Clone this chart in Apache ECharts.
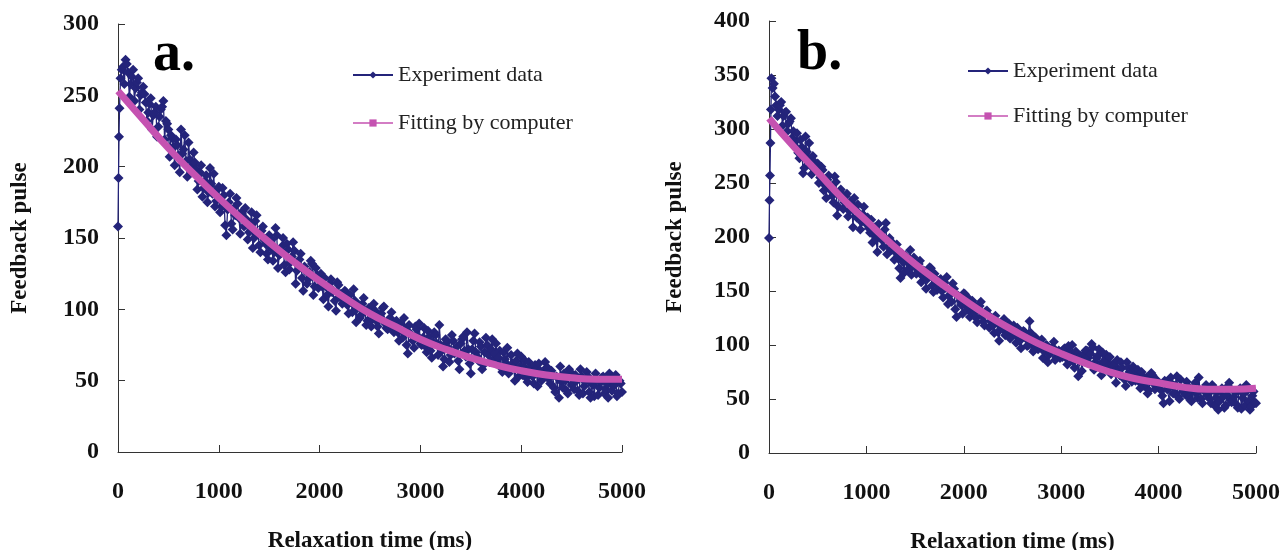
<!DOCTYPE html>
<html><head><meta charset="utf-8">
<script src="https://cdn.jsdelivr.net/npm/echarts@6/dist/echarts.min.js"></script>
<style>html,body{margin:0;background:#fff}#c{width:1280px;height:550px}</style>
</head><body><div id="c"></div>
<script>
// ---------- data ----------
const xTicks = [0, 1000, 2000, 3000, 4000, 5000];
const sampleStepMs = 25;      // main samples: 25, 50, ... 5000 ms
const midStartMs = 37.5;      // interleaved samples: 37.5, 62.5, ... 4987.5 ms
const fitStepMs = 250;        // fitted curve read every 250 ms

// Panel a
const rampTimesA = [0, 5, 10, 15];
const rampValsA  = [158, 192, 221, 241];
const expA = [
 262,270,275,266,258,268,255,262,250,256,
 245,238,248,236,242,228,240,246,232,226,
 222,214,219,208,226,212,204,217,200,210,
 198,190,201,185,194,182,188,195,176,186,
 172,180,152,175,160,171,178,164,167,158,
 163,154,168,150,166,145,155,149,139,152,
 149,140,152,138,144,131,146,128,137,141,
 127,135,122,130,118,126,132,116,124,121,
 116,122,110,118,112,106,119,109,104,113,
 103,110,98,106,101,94,104,99,92,100,
 93,99,88,95,101,90,86,94,89,91,
 84,90,80,86,69,83,78,88,81,76,
 80,74,85,71,77,82,68,75,60,79,
 73,68,78,70,64,76,81,67,72,55,
 78,70,64,74,61,80,68,72,65,76,
 66,59,70,62,55,68,60,64,53,67,
 60,52,63,56,48,58,62,50,55,59,
 51,57,45,53,38,49,55,43,58,47,
 44,50,40,53,46,56,42,48,39,51,
 45,52,41,48,55,43,47,39,50,42
];
const expMidA = [
 268,258,272,249,263,246,259,240,252,
 251,232,244,226,238,221,235,242,219,230,
 207,220,201,215,196,209,222,193,205,199,
 203,184,196,179,190,175,199,181,172,184,
 168,185,159,170,181,156,166,174,153,169,
 171,149,159,143,162,153,140,158,146,135,
 143,134,157,129,139,150,126,142,133,147,
 118,131,139,113,127,121,134,110,129,115,
 125,107,116,102,121,113,99,117,111,106,
 112,97,105,114,91,103,96,108,89,101,
 88,104,92,83,97,102,87,93,98,84,
 92,78,85,94,75,89,82,73,86,90,
 75,87,70,81,66,84,76,89,71,65,
 77,63,82,69,74,58,79,71,84,62,
 72,83,67,77,58,70,75,63,79,69,
 63,71,56,65,73,58,62,50,69,60,
 54,64,49,59,53,61,46,57,52,63,
 59,48,54,42,52,60,45,50,41,56,
 48,54,43,58,41,49,53,38,47,55,
 40,49,53,44,38,51,46,54,41,48
];
const fitA = [253,233,213,195,178,162,147,133,120,108,97,88,79,72,66,61,57,54,52,51,51];

// Panel b
const rampTimesB = [0, 5, 10, 15, 20];
const rampValsB  = [199, 234, 257, 287, 318];
const expB = [
 347,342,322,318,325,312,316,305,310,298,
 283,278,290,259,293,272,266,275,262,268,
 255,262,248,253,244,238,256,220,242,236,
 232,240,224,229,236,218,222,214,228,212,
 208,216,202,198,212,200,191,213,196,189,
 194,186,180,162,177,183,170,188,173,176,
 170,178,164,168,161,172,155,166,151,160,
 150,158,163,146,140,152,126,145,137,148,
 136,143,130,138,125,133,140,122,131,128,
 122,118,127,112,120,115,109,118,106,113,
 110,116,104,108,112,99,122,101,96,104,
 98,105,94,100,91,97,103,89,95,93,
 96,88,99,92,85,94,71,90,86,95,
 88,92,98,84,90,80,93,86,79,89,
 82,76,86,72,79,68,84,75,66,78,
 72,66,75,62,70,58,74,64,68,61,
 58,46,66,60,70,55,63,52,68,57,
 54,62,49,57,65,51,58,46,60,53,
 50,63,44,56,48,60,42,54,65,47,
 52,45,58,41,55,63,48,43,57,46
];
const expMidB = [
 338,330,312,322,303,315,298,307,292,
 288,296,273,283,264,279,287,258,270,263,
 250,265,243,236,257,247,232,251,228,244,
 226,238,219,233,209,225,230,207,221,215,
 218,204,195,209,186,203,197,207,184,199,
 188,179,193,171,185,167,180,175,165,181,
 166,175,158,169,152,163,171,149,161,156,
 161,144,153,138,150,157,133,146,141,129,
 147,133,126,141,130,121,136,127,118,132,
 116,125,111,121,104,117,124,110,120,108,
 118,102,109,97,113,106,100,111,94,107,
 96,101,88,99,84,94,98,86,92,88,
 89,97,82,93,100,79,91,85,76,92,
 95,83,101,77,88,96,72,85,91,81,
 73,81,65,77,84,70,62,79,73,80,
 67,77,60,71,64,55,69,72,59,66,
 62,53,67,59,48,64,56,71,50,60,
 57,66,52,48,61,55,70,50,58,63,
 55,46,61,51,40,58,52,44,62,49,
 49,56,42,60,51,44,58,40,53,47
];
const fitB = [310,284,260,236,215,194,175,158,142,127,114,102,92,83,75,69,65,61,59,59,60];

const seriesNames = ['Experiment data', 'Fitting by computer'];
const panelLabels = ['a.', 'b.'];

// ---------- build ----------
function expPairs(rt, rv, vals, mids) {
  const out = rt.map((t, i) => [t, rv[i]]);
  vals.forEach((v, i) => out.push([(i + 1) * sampleStepMs, v]));
  mids.forEach((v, i) => out.push([midStartMs + i * sampleStepMs, v]));
  out.sort((p, q) => p[0] - q[0]);
  return out;
}
function fitPairs(vals) { return vals.map((v, i) => [i * fitStepMs, v]); }

const SERIF = "'Liberation Serif','Times New Roman',serif";
const NAVY = '#24247a';
const PINK = '#c552b1';
const AX = '#333';

function xAxis(gi) {
  return {
    type: 'value', gridIndex: gi, min: 0, max: 5000, interval: 1000,
    name: 'Relaxation time (ms)', nameLocation: 'middle', nameGap: 78,
    nameTextStyle: { fontFamily: SERIF, fontWeight: 'bold', fontSize: 23, color: '#111' },
    axisLine: { show: true, lineStyle: { color: AX, width: 1 } },
    axisTick: { show: true, inside: true, length: 7, lineStyle: { color: AX } },
    axisLabel: { margin: 28, fontFamily: SERIF, fontWeight: 'bold', fontSize: 24, color: '#111',
      formatter: v => xTicks.includes(v) ? String(v) : '' },
    splitLine: { show: false }
  };
}
function yAxis(gi, max, margin, gap) {
  return {
    type: 'value', gridIndex: gi, min: 0, max: max, interval: 50,
    name: 'Feedback pulse', nameLocation: 'middle', nameGap: gap, nameRotate: 90,
    nameTextStyle: { fontFamily: SERIF, fontWeight: 'bold', fontSize: 23, color: '#111' },
    axisLine: { show: true, lineStyle: { color: AX, width: 1 } },
    axisTick: { show: true, inside: true, length: 7, lineStyle: { color: AX } },
    axisLabel: { margin: margin, fontFamily: SERIF, fontWeight: 'bold', fontSize: 24, color: '#111' },
    splitLine: { show: false }
  };
}
function legend(left, top, gap) {
  return {
    orient: 'vertical', left: left, top: top, itemGap: gap, itemWidth: 40, itemHeight: 9,
    textStyle: { fontFamily: SERIF, fontSize: 22, color: '#222' },
    data: [
      { name: seriesNames[0], lineStyle: { width: 2 } },
      { name: seriesNames[1], lineStyle: { width: 1.5 } }
    ]
  };
}
function expSeries(i, data) {
  return {
    name: seriesNames[0], type: 'line', xAxisIndex: i, yAxisIndex: i, data: data,
    symbol: 'diamond', symbolSize: 10, showSymbol: true,
    itemStyle: { color: NAVY }, lineStyle: { color: NAVY, width: 1.3 }, z: 2
  };
}
function fitSeries(i, data) {
  return {
    name: seriesNames[1], type: 'line', xAxisIndex: i, yAxisIndex: i, data: data,
    smooth: true, symbol: 'rect', symbolSize: 7, showSymbol: false,
    itemStyle: { color: PINK }, lineStyle: { color: PINK, width: 7 }, z: 3
  };
}

const chart = echarts.init(document.getElementById('c'), null, { renderer: 'canvas' });
chart.setOption({
  animation: false,
  backgroundColor: '#fff',
  grid: [
    { left: 118, top: 24, width: 504, height: 428, outerBoundsMode: 'none', containLabel: false },
    { left: 769, top: 21, width: 487, height: 432, outerBoundsMode: 'none', containLabel: false }
  ],
  xAxis: [xAxis(0), xAxis(1)],
  yAxis: [yAxis(0, 300, 19, 86), yAxis(1, 400, 19, 82)],
  legend: [legend(347, 59, 26), legend(962, 55, 23)],
  graphic: [
    { type: 'text', left: 153, top: 28, style: { text: panelLabels[0], font: "bold 56px 'Liberation Serif'", fill: '#000' } },
    { type: 'text', left: 797, top: 27, style: { text: panelLabels[1], font: "bold 56px 'Liberation Serif'", fill: '#000' } }
  ],
  series: [
    expSeries(0, expPairs(rampTimesA, rampValsA, expA, expMidA)),
    fitSeries(0, fitPairs(fitA)),
    expSeries(1, expPairs(rampTimesB, rampValsB, expB, expMidB)),
    fitSeries(1, fitPairs(fitB))
  ]
});
</script></body></html>
